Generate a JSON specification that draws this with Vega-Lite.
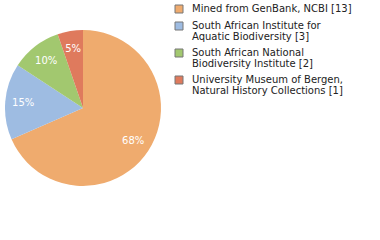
{
  "$schema": "https://vega.github.io/schema/vega-lite/v6.json",
  "width": 166,
  "height": 216,
  "padding": 0,
  "background": "white",
  "config": {"view": {"stroke": null}, "font": "DejaVu Sans", "style": {"guide-label": {"lineHeight": 11}}},
  "data": {"values": [
    {"idx": 1, "name": "Mined from GenBank, NCBI [13]", "count": 13, "pct": "68%"},
    {"idx": 2, "name": "South African Institute for|Aquatic Biodiversity [3]", "count": 3, "pct": "15%"},
    {"idx": 3, "name": "South African National|Biodiversity Institute [2]", "count": 2, "pct": "10%"},
    {"idx": 4, "name": "University Museum of Bergen,|Natural History Collections [1]", "count": 1, "pct": "5%"}
  ]},
  "encoding": {
    "theta": {"field": "count", "type": "quantitative", "stack": true},
    "order": {"field": "idx", "type": "quantitative", "sort": "ascending"},
    "color": {
      "field": "name", "type": "nominal",
      "sort": {"field": "idx"},
      "scale": {"range": ["#efab6e", "#9ebce2", "#a2c86f", "#df7a5d"]},
      "legend": {
        "title": null,
        "orient": "right",
        "offset": 4,
        "padding": 4,
        "symbolType": "square",
        "symbolSize": 64,
        "symbolStrokeColor": "#777777",
        "symbolStrokeWidth": 1,
        "symbolFillOpacity": 1,
        "labelExpr": "split(datum.label, '|')",
        "labelFont": "DejaVu Sans",
        "labelFontSize": 10,
        "labelColor": "#222222",
        "labelOffset": 8,
        "labelLimit": 300,
        "rowPadding": 5
      }
    }
  },
  "layer": [
    {"mark": {"type": "arc", "outerRadius": 78}},
    {"mark": {"type": "text", "radius": 60, "font": "DejaVu Sans", "fontSize": 10, "fontWeight": "normal"},
     "encoding": {"text": {"field": "pct", "type": "nominal"}, "color": {"value": "white"}}}
  ]
}
